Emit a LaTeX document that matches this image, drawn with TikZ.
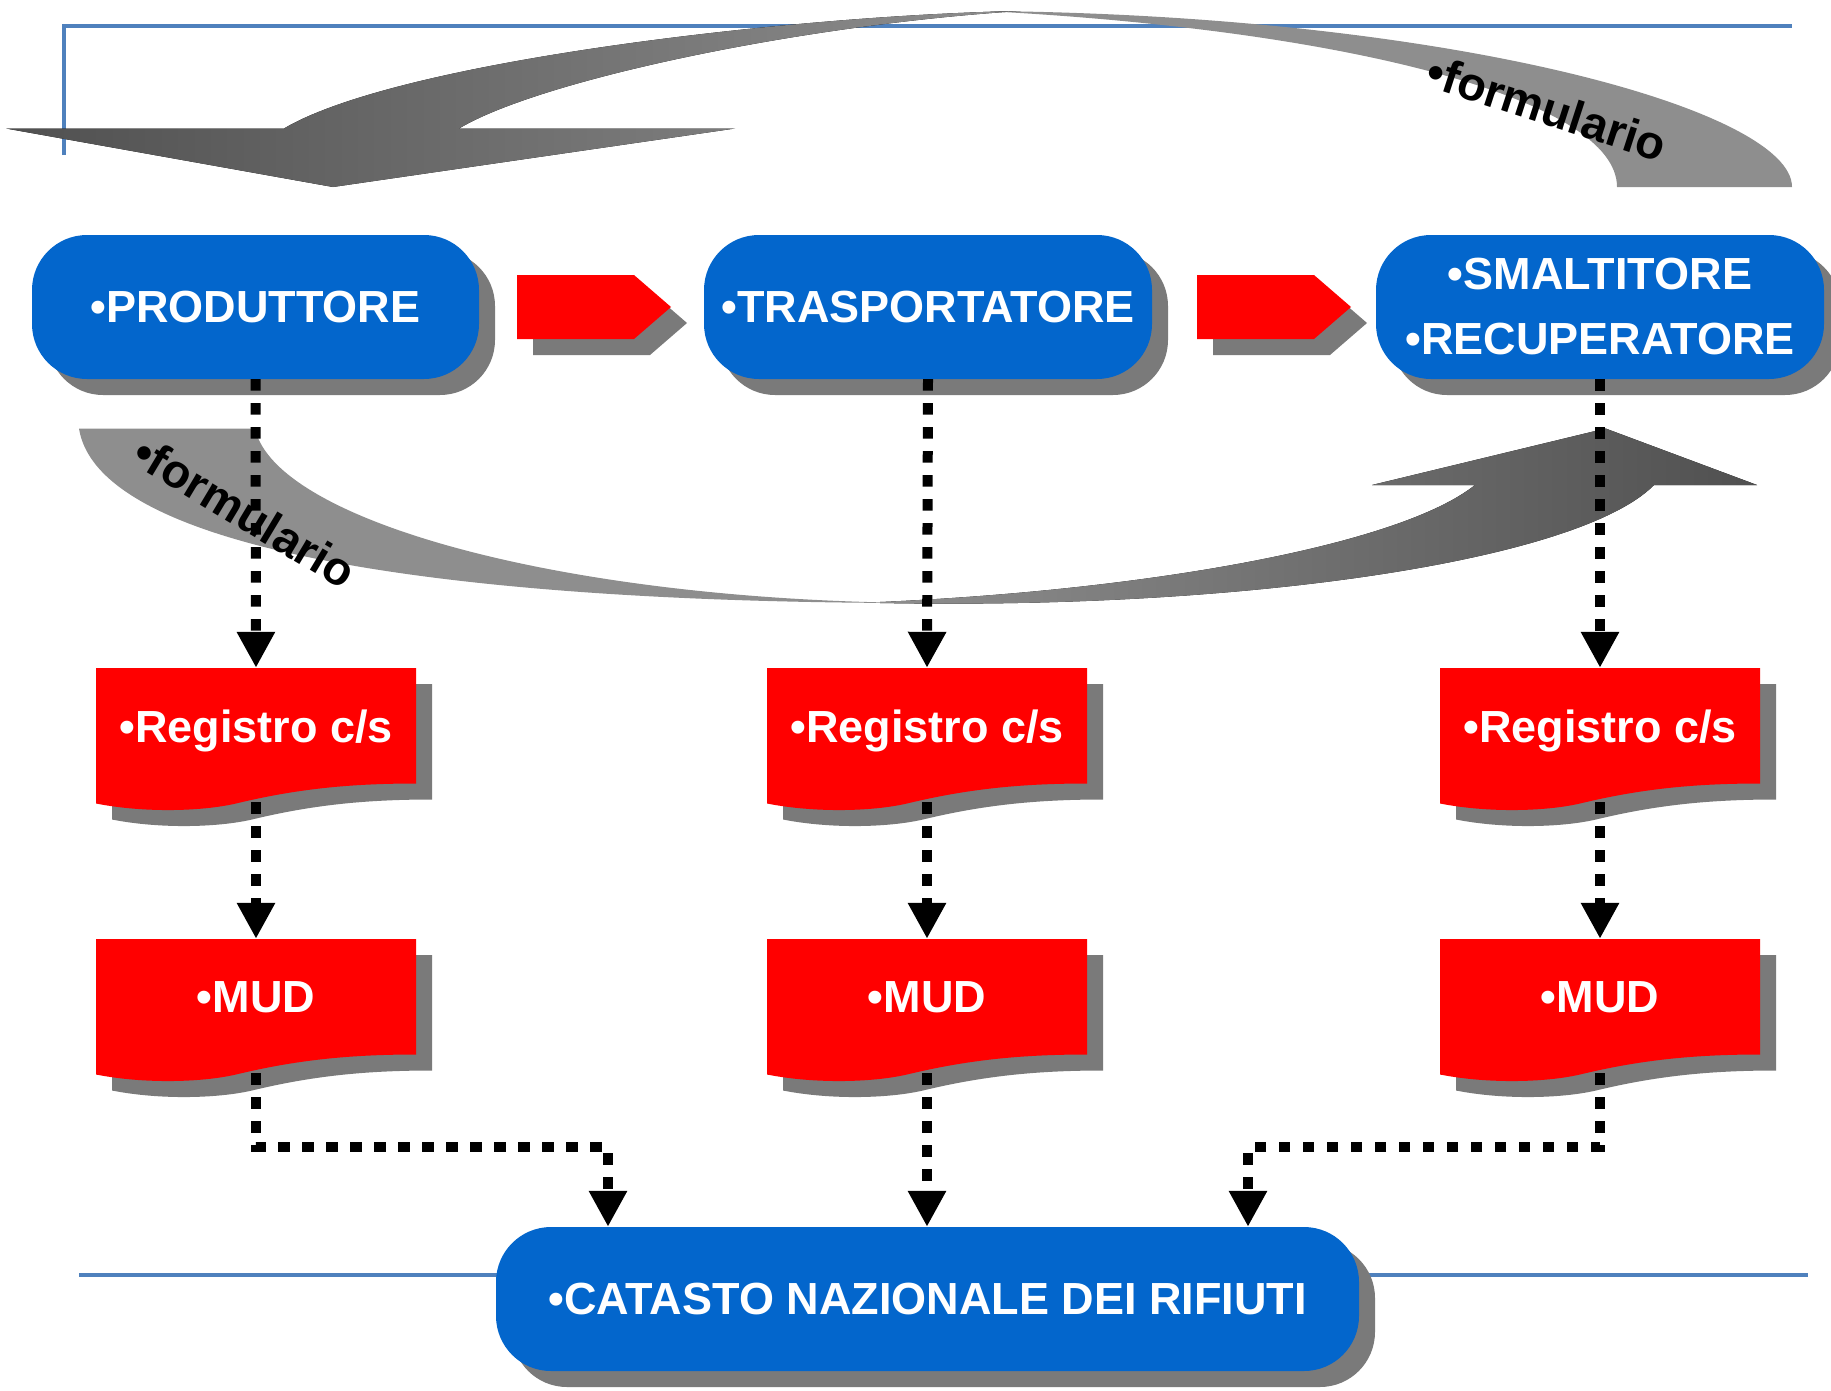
\documentclass[tikz,border=0pt]{standalone}
\usepackage{fontspec}
\setmainfont{Liberation Sans}
\usetikzlibrary{arrows.meta,shadows,calc}
\definecolor{boxblue}{RGB}{3,102,204}
\definecolor{docred}{RGB}{255,0,0}
\definecolor{shadowgray}{RGB}{122,122,122}
\definecolor{lineblue}{RGB}{79,129,189}
\definecolor{gdark}{RGB}{80,80,80}
\definecolor{glight}{RGB}{142,142,142}
\tikzset{
  bluebox/.style={rectangle, rounded corners=55pt, fill=boxblue, text=white,
    font=\bfseries\fontsize{45}{65}\selectfont, minimum height=144pt,
    inner sep=0pt, align=center,
    drop shadow={shadow xshift=16pt, shadow yshift=-16pt, fill=shadowgray, opacity=1}},
  doctext/.style={rectangle, text=white, font=\bfseries\fontsize{45}{54}\selectfont,
    minimum width=320pt, minimum height=116pt, inner sep=0pt, text depth=0pt},
  conn/.style={line width=10pt, dash pattern=on 11.5pt off 12.5pt,
    -{Triangle[width=36pt,length=36pt]}},
  frameline/.style={draw=lineblue, line width=4pt},
  formtext/.style={font=\bfseries\fontsize{47}{50}\selectfont, text=black, inner sep=0pt},
}
\newcommand\docshape[4]{%
  \begin{scope}[shift={(#2,#3)}]
    \fill[shadowgray] (16,16) -- (336,16) -- (336,131.5) .. controls (267,131.5) and (214,137.5) .. (156,151.5) .. controls (121,159.6) and (63,160.8) .. (16,151.5) -- cycle;
    \fill[docred] (0,0) -- (320,0) -- (320,115.5) .. controls (251,115.5) and (198,121.5) .. (140,135.5) .. controls (105,143.6) and (47,144.8) .. (0,135.5) -- cycle;
    \node[doctext] (#1) at (160,58) {#4};
    \coordinate (#1-b) at (160,134);
  \end{scope}}
\begin{document}
\begin{tikzpicture}[x=1pt,y=-1pt]
\useasboundingbox (0,0) rectangle (1831,1390);
% frame lines
\draw[frameline] (64,155) -- (64,26) -- (1792,26);
\draw[frameline] (79,1275) -- (1808,1275);
% top curved arrow
\fill[glight] (1617,187) .. controls (1617,100) and (1350,30) .. (985,11) .. controls (1450,15) and (1792,110) .. (1792,187) -- cycle;
\fill[left color=gdark, right color=glight] (6,128.5) -- (333,187) -- (735,128.5) -- (459,128.5) .. controls (540,80) and (800,25) .. (1020,11) .. controls (800,15) and (400,60) .. (284,128.5) -- cycle;
% bottom curved arrow
\fill[glight] (79,428.5) .. controls (100,560) and (500,603) .. (920,603) .. controls (560,600) and (275,520) .. (255,428.5) -- cycle;
\fill[left color=glight, right color=gdark] (880,602) .. controls (1150,590) and (1400,545) .. (1475,485) -- (1372,485) -- (1605.6,428.5) -- (1757,485) -- (1654,485) .. controls (1580,560) and (1250,610) .. (880,603) -- cycle;
\node[formtext, rotate=-18] (f1) at (1547,108) {•formulario};
\node[formtext, rotate=-31] (f2) at (245,512) {•formulario};
% main boxes
\node[bluebox, minimum width=447pt] (P) at (255.5,307) {•PRODUTTORE};
\node[bluebox, minimum width=448pt] (T) at (928,307) {•TRASPORTATORE};
\node[bluebox, minimum width=448pt] (S) at (1600,307) {•SMALTITORE\\•RECUPERATORE};
\node[bluebox, minimum width=863pt] (C) at (927.5,1299) {•CATASTO NAZIONALE DEI RIFIUTI};
% red flow arrows
\foreach \x in {517,1197} {
  \fill[shadowgray] (\x+16,291) -- (\x+133,291) -- (\x+170,323) -- (\x+133,355) -- (\x+16,355) -- cycle;
  \fill[docred] (\x,275) -- (\x+117,275) -- (\x+154,307) -- (\x+117,339) -- (\x,339) -- cycle;
}
% documents
\docshape{r1}{96}{668}{•Registro c/s}
\docshape{r2}{767}{668}{•Registro c/s}
\docshape{r3}{1440}{668}{•Registro c/s}
\docshape{m1}{96}{939}{•MUD}
\docshape{m2}{767}{939}{•MUD}
\docshape{m3}{1440}{939}{•MUD}
\coordinate (jl) at (608,1147);
\coordinate (jr) at (1248,1147);
% connectors
\draw[conn] (P.south) -- (r1.north);
\draw[conn] (T.south) -- (r2.north);
\draw[conn] (S.south) -- (r3.north);
\draw[conn] (r1-b) -- (m1.north);
\draw[conn] (r2-b) -- (m2.north);
\draw[conn] (r3-b) -- (m3.north);
\draw[conn] (m1-b) |- (jl) -- (jl |- C.north);
\draw[conn] (m2-b) -- (m2-b |- C.north);
\draw[conn] (m3-b) |- (jr) -- (jr |- C.north);
\end{tikzpicture}
\end{document}
